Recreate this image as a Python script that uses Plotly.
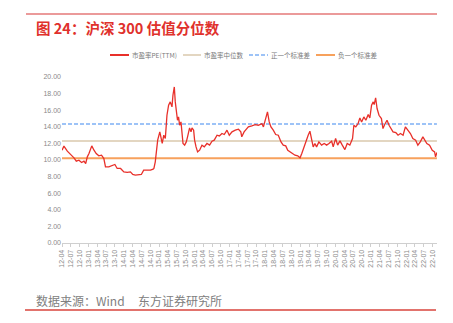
import plotly.graph_objects as go

# 沪深300 市盈率PE(TTM) 走势
dates = [
    "2012-04-01", "2012-04-21", "2012-05-26", "2012-06-29", "2012-08-03", "2012-08-27",
    "2012-09-23", "2012-10-21", "2012-11-14", "2012-12-02", "2012-12-19", "2013-01-05",
    "2013-02-03", "2013-02-26", "2013-03-21", "2013-04-17", "2013-05-15", "2013-06-08",
    "2013-06-25", "2013-07-29", "2013-09-03", "2013-09-30", "2013-10-24", "2013-11-28",
    "2014-01-01", "2014-02-05", "2014-03-10", "2014-04-03", "2014-04-30", "2014-06-04",
    "2014-07-01", "2014-07-25", "2014-08-30", "2014-10-03", "2014-10-31", "2014-11-08",
    "2014-11-22", "2014-12-04", "2014-12-17", "2015-01-08", "2015-01-22", "2015-02-02",
    "2015-02-18", "2015-03-06", "2015-03-23", "2015-04-09", "2015-04-26", "2015-05-14",
    "2015-05-24", "2015-06-07", "2015-06-17", "2015-06-27", "2015-07-10", "2015-07-21",
    "2015-08-01", "2015-08-15", "2015-08-25", "2015-09-05", "2015-09-22", "2015-10-09",
    "2015-10-22", "2015-11-12", "2015-11-27", "2015-12-07", "2015-12-24", "2016-01-03",
    "2016-01-18", "2016-02-03", "2016-02-24", "2016-03-19", "2016-04-12", "2016-05-10",
    "2016-06-06", "2016-07-01", "2016-07-24", "2016-08-22", "2016-09-15", "2016-10-12",
    "2016-11-05", "2016-12-03", "2016-12-27", "2017-01-24", "2017-02-27", "2017-04-01",
    "2017-04-25", "2017-05-05", "2017-05-29", "2017-06-26", "2017-07-12", "2017-08-17",
    "2017-09-21", "2017-10-24", "2017-11-29", "2017-12-15", "2018-01-09", "2018-01-26",
    "2018-02-13", "2018-03-03", "2018-03-27", "2018-04-21", "2018-05-18", "2018-06-15",
    "2018-07-08", "2018-08-03", "2018-08-24", "2018-09-17", "2018-10-10", "2018-11-07",
    "2018-12-05", "2018-12-29", "2019-01-16", "2019-02-12", "2019-03-07", "2019-03-23",
    "2019-04-10", "2019-04-27", "2019-05-14", "2019-06-01", "2019-06-18", "2019-07-12",
    "2019-08-09", "2019-09-05", "2019-09-30", "2019-10-24", "2019-11-21", "2019-12-07",
    "2020-01-01", "2020-01-22", "2020-02-15", "2020-03-10", "2020-04-06", "2020-04-30",
    "2020-05-27", "2020-06-24", "2020-07-08", "2020-07-28", "2020-08-21", "2020-09-08",
    "2020-09-26", "2020-10-19", "2020-11-09", "2020-12-03", "2020-12-20", "2021-01-07",
    "2021-01-24", "2021-02-03", "2021-02-18", "2021-03-05", "2021-03-25", "2021-04-19",
    "2021-05-05", "2021-05-23", "2021-06-16", "2021-07-07", "2021-08-01", "2021-08-17",
    "2021-09-15", "2021-10-08", "2021-11-02", "2021-11-29", "2021-12-23", "2022-01-19",
    "2022-02-13", "2022-03-10", "2022-04-08", "2022-05-01", "2022-05-26", "2022-06-22",
    "2022-07-09", "2022-08-02", "2022-08-30", "2022-09-27", "2022-10-21", "2022-10-31",
    "2022-11-14",
]
pe_ttm = [
    11.18, 11.67, 11.06, 10.67, 10.26, 9.86,
    9.98, 9.70, 9.86, 9.58, 10.38, 10.78,
    11.70, 11.18, 10.78, 10.50, 10.58, 10.18,
    9.18, 9.18, 9.38, 9.46, 8.98, 8.98,
    8.57, 8.50, 8.57, 8.26, 8.18, 8.26,
    8.26, 8.78, 8.78, 8.78, 8.90, 8.98,
    9.78, 11.39, 12.39, 13.39, 12.79, 11.99,
    12.99, 12.59, 15.39, 16.60, 17.00, 16.40,
    17.80, 18.80, 17.00, 15.79, 14.79, 15.19,
    14.19, 14.59, 12.99, 11.99, 11.79, 12.18,
    12.79, 13.87, 13.39, 13.87, 13.59, 12.39,
    11.58, 10.98, 11.18, 11.79, 11.58, 11.99,
    11.79, 12.27, 12.39, 12.99, 12.90, 13.19,
    13.07, 13.59, 12.99, 13.39, 13.59, 13.71,
    13.39, 12.79, 13.39, 13.79, 13.99, 14.11,
    14.27, 14.19, 14.39, 13.99, 14.99, 15.79,
    14.59, 13.99, 13.59, 13.07, 12.99, 12.18,
    11.79, 11.70, 11.18, 10.98, 10.78, 10.58,
    10.50, 10.26, 10.78, 11.79, 12.59, 12.99,
    13.47, 12.39, 11.58, 11.99, 11.58, 12.18,
    11.79, 11.99, 11.79, 11.99, 12.27, 11.58,
    12.59, 11.79, 12.30, 11.79, 11.25, 11.99,
    11.79, 12.59, 14.19, 13.99, 14.39, 15.07,
    14.59, 15.19, 14.79, 15.48, 15.07, 16.60,
    17.00, 16.68, 17.48, 16.20, 15.39, 14.99,
    13.79, 14.27, 14.79, 14.19, 13.79, 13.39,
    13.31, 12.99, 13.19, 12.99, 13.99, 13.59,
    13.19, 12.59, 12.39, 11.79, 12.18, 12.79,
    12.39, 11.99, 11.79, 11.18, 10.98, 10.38,
    10.90,
]

pe_median = 12.30
plus_one_std = 14.35
minus_one_std = 10.22

# 季度刻度
tick_dates = [f"20{y:02d}-{m:02d}-01" for y in range(12, 23) for m in (1, 4, 7, 10)
              if not (y == 12 and m == 1)]
tick_labels = [d[2:7] for d in tick_dates]

y_ticks = [0, 2, 4, 6, 8, 10, 12, 14, 16, 18, 20]
y_tick_labels = [f"{v:.2f}" for v in y_ticks]

x_start, x_end = "2012-04-01", "2022-11-15"

legend_names = ["市盈率PE(TTM)", "市盈率中位数", "正一个标准差", "负一个标准差"]
c_pe, c_med, c_plus, c_minus = "#e8302a", "#e3d6c1", "#9dc3f7", "#f7a15c"

W, H = 453, 323
L, R, T, B = 62, 16, 77, 80
PW, PH = W - L - R, H - T - B


def px_x(px):
    return (px - L) / PW


def px_y(py):
    return (H - B - py) / PH


fig = go.Figure()

line_x = [x_start, dates[-1]]
fig.add_trace(go.Scatter(x=line_x, y=[pe_median] * 2, mode="lines",
                         line=dict(color=c_med, width=2), name=legend_names[1]))
fig.add_trace(go.Scatter(x=line_x, y=[plus_one_std] * 2, mode="lines",
                         line=dict(color=c_plus, width=2, dash="4px,2px"), name=legend_names[2]))
fig.add_trace(go.Scatter(x=line_x, y=[minus_one_std] * 2, mode="lines",
                         line=dict(color=c_minus, width=2), name=legend_names[3]))
fig.add_trace(go.Scatter(x=dates, y=pe_ttm, mode="lines",
                         line=dict(color=c_pe, width=1.3), name=legend_names[0]))

shapes = []
annotations = []

# 图例
legend_items = [
    (legend_names[0], c_pe, "solid", 110, 129),
    (legend_names[1], c_med, "solid", 183, 201),
    (legend_names[2], c_plus, "4px,2px", 249, 268),
    (legend_names[3], c_minus, "solid", 316, 335),
]
for name, color, dash, x0, x1 in legend_items:
    shapes.append(dict(type="line", xref="paper", yref="paper",
                       x0=px_x(x0), x1=px_x(x1), y0=px_y(55), y1=px_y(55),
                       line=dict(color=color, width=2, dash=dash)))
    annotations.append(dict(text=name, xref="paper", yref="paper",
                            x=px_x(x1 + 1), y=px_y(55), xanchor="left", yanchor="middle",
                            showarrow=False, font=dict(size=6.5, color="#7a7a7a")))

# 标题上下的装饰线
shapes.append(dict(type="line", xref="paper", yref="paper",
                   x0=px_x(26), x1=px_x(437), y0=px_y(14), y1=px_y(14),
                   line=dict(color="#eb9a9a", width=2)))
shapes.append(dict(type="line", xref="paper", yref="paper",
                   x0=px_x(25), x1=px_x(436), y0=px_y(310), y1=px_y(310),
                   line=dict(color="#d8453d", width=1.5)))

annotations.append(dict(text="<b>图 24：沪深 300 估值分位数</b>", xref="paper", yref="paper",
                        x=px_x(34), y=px_y(27), xanchor="left", yanchor="middle",
                        showarrow=False,
                        font=dict(size=14.5, color="#e0312c", family="Noto Sans CJK SC")))
annotations.append(dict(text="数据来源：Wind&nbsp;&nbsp;&nbsp;&nbsp;&nbsp;东方证券研究所",
                        xref="paper", yref="paper",
                        x=px_x(34), y=px_y(300), xanchor="left", yanchor="middle",
                        showarrow=False,
                        font=dict(size=12, color="#808080", family="Noto Sans CJK SC")))

fig.update_layout(
    width=W, height=H,
    margin=dict(l=L, r=R, t=T, b=B),
    paper_bgcolor="white", plot_bgcolor="white",
    showlegend=False,
    font=dict(family="Noto Sans CJK SC", color="#7a7a7a"),
    shapes=shapes, annotations=annotations,
)
fig.update_xaxes(
    type="date", range=[x_start, x_end],
    tickvals=tick_dates, ticktext=tick_labels, tickangle=-90,
    tickfont=dict(size=7, color="#8a8a8a", family="Liberation Sans"),
    showgrid=False, zeroline=False,
    showline=True, linecolor="#cfcfcf", linewidth=1,
    ticks="outside", ticklen=3, tickcolor="#cfcfcf",
)
fig.update_yaxes(
    range=[0, 20], tickvals=y_ticks, ticktext=y_tick_labels,
    tickfont=dict(size=7, color="#8a8a8a", family="Liberation Sans"),
    showgrid=False, zeroline=False, showline=False, ticks="",
)

fig.write_html("out.html")
